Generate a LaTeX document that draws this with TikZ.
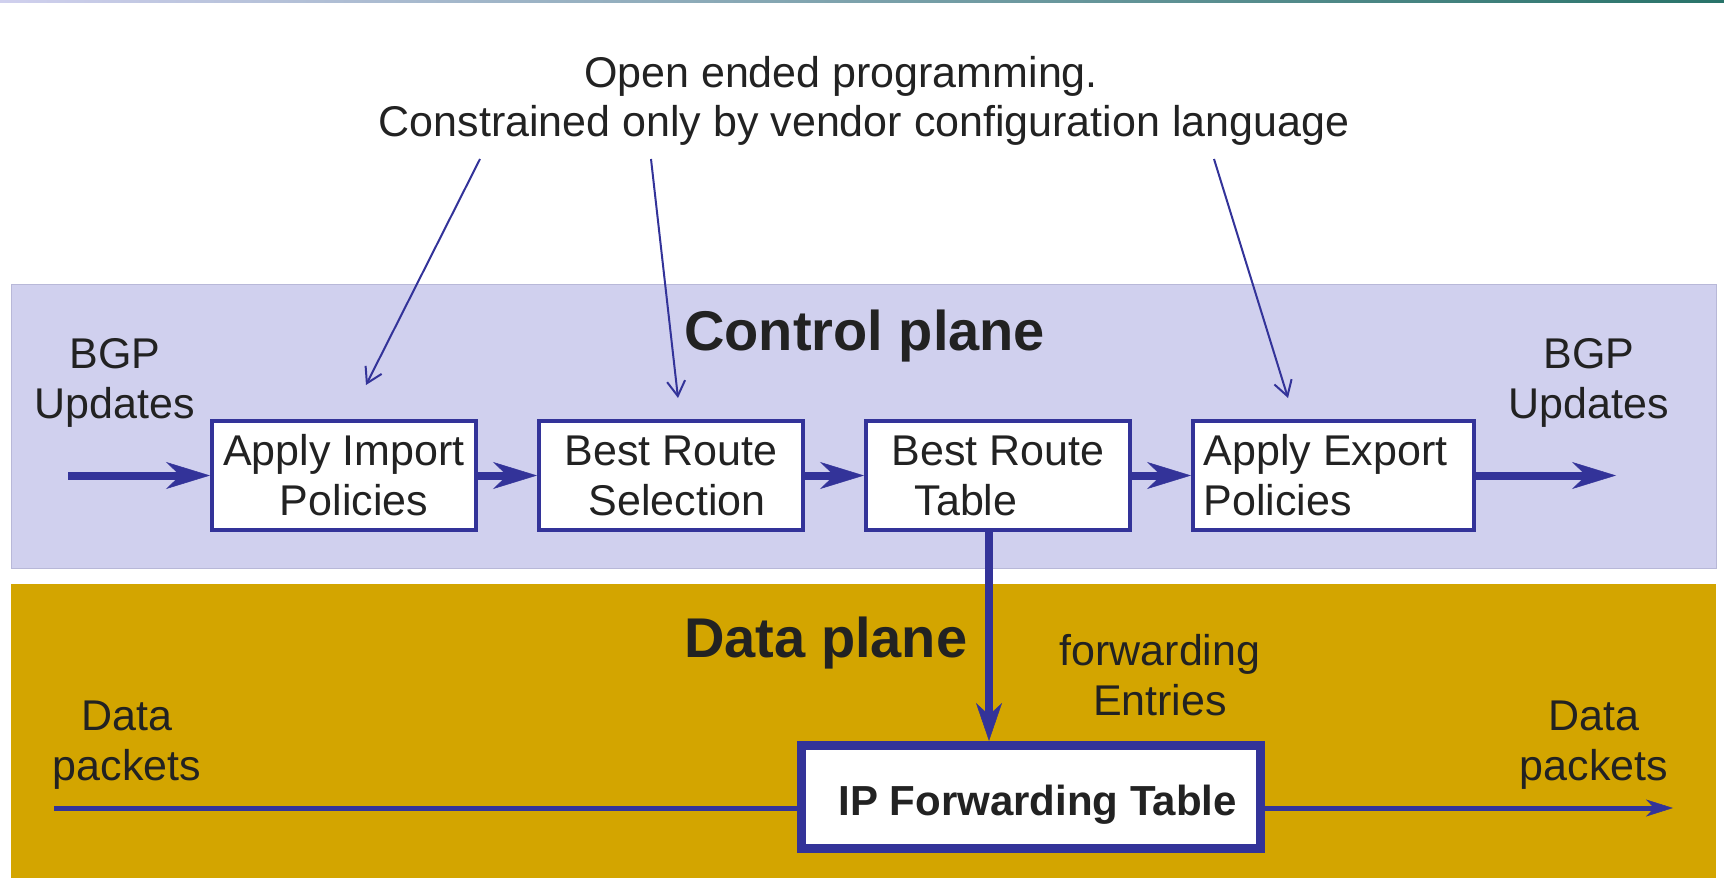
\documentclass[tikz,border=0pt]{standalone}
\usepackage{fontspec}
\setmainfont{Liberation Sans}
\usetikzlibrary{arrows.meta}
\definecolor{lav}{RGB}{208,208,238}
\definecolor{lavedge}{RGB}{184,184,216}
\definecolor{gold}{RGB}{211,165,0}
\definecolor{pblue}{RGB}{51,51,153}
\definecolor{ink}{RGB}{34,34,34}
\definecolor{teal}{RGB}{40,115,105}
\begin{document}
\begin{tikzpicture}[x=1pt,y=-1pt,
  every node/.style={text=ink, inner sep=0pt, font=\fontsize{43}{50}\selectfont},
  box/.style={draw=pblue, line width=4pt, fill=white, minimum width=264pt, minimum height=109pt, align=center},
  thickarrow/.style={draw=pblue, line width=8pt, -{Stealth[length=44pt,width=27pt,inset=14pt,line width=0.5pt]}},
  notearrow/.style={draw=pblue, line width=2pt, -{Straight Barb[length=15pt,width=18pt]}},
  big/.style={font=\fontsize{56}{60}\selectfont\bfseries}
]
\useasboundingbox (0,0) rectangle (1724,885);
% backgrounds
\shade[left color=lav, right color=teal] (0,0) rectangle (1724,2.5);
\fill[lav, draw=lavedge, line width=1pt] (11,285) rectangle (1716,568);
\fill[gold] (11,584) rectangle (1716,878);

% titles
\node[anchor=base] (t1) at (841,88) {Open ended programming.};
\node[anchor=base] (t2) at (864,137) {Constrained only by vendor configuration language};
\node[big, anchor=base west] (cp) at (684,350) {Control plane};
\node[big, anchor=base west] (dp) at (684,657) {Data plane};

% side labels
\node[align=center] (bgpL) at (115,382.5) {BGP\\Updates};
\node[align=center] (bgpR) at (1589,382.5) {BGP\\Updates};
\node[align=center] (dpL) at (127,745.5) {Data\\packets};
\node[align=center] (dpR) at (1594,745.5) {Data\\packets};
\node[align=center] (fwd) at (1160,675) {forwarding\\Entries};

% boxes
\node[box] (b1) at (344,475.5) {Apply Import\\\hspace*{20pt}Policies};
\node[box] (b2) at (671,475.5) {Best Route\\\hspace*{12pt}Selection};
\node[box] (b3) at (998,475.5) {Best Route\\Table\hspace*{64pt}};
\node[box, minimum width=281pt, align=left] (b4) at (1333.5,475.5) {Apply Export\hspace*{16pt}\\Policies};
\node[draw=pblue, line width=9pt, fill=white, minimum width=459pt, minimum height=103pt,
      text height=36pt, text depth=0pt, font=\fontsize{42}{50}\selectfont\bfseries] (ip) at (1031,797)
      {\hspace*{13pt}IP Forwarding Table};

% control plane arrows
\coordinate (inL) at (68,475.5);
\coordinate (outR) at (1616,475.5);
\draw[thickarrow] (inL) -- (b1.west);
\draw[thickarrow] (b1.east) -- (b2.west);
\draw[thickarrow] (b2.east) -- (b3.west);
\draw[thickarrow] (b3.east) -- (b4.west);
\draw[thickarrow] (b4.east) -- (outR);
\draw[draw=pblue, line width=8pt, -{Stealth[length=38pt,width=26pt,inset=12pt,line width=0.5pt]}]
  ([xshift=-9pt]b3.south) -- ([xshift=-9pt]b3.south |- ip.north);

% data plane line
\coordinate (dL) at (54,808);
\coordinate (dR) at (1673,808);
\draw[pblue, line width=5pt] (dL) -- (dL -| ip.west);
\draw[pblue, line width=5pt, -{Stealth[length=27pt,width=17pt,inset=8pt,line width=0.5pt]}] (dL -| ip.east) -- (dR);

% annotation arrows
\coordinate (a1s) at (480,159); \coordinate (a1e) at (366,385);
\coordinate (a2s) at (651,159); \coordinate (a2e) at (678,398);
\coordinate (a3s) at (1214,159); \coordinate (a3e) at (1288,398);
\draw[notearrow] (a1s) -- (a1e);
\draw[notearrow] (a2s) -- (a2e);
\draw[notearrow] (a3s) -- (a3e);
\end{tikzpicture}
\end{document}
